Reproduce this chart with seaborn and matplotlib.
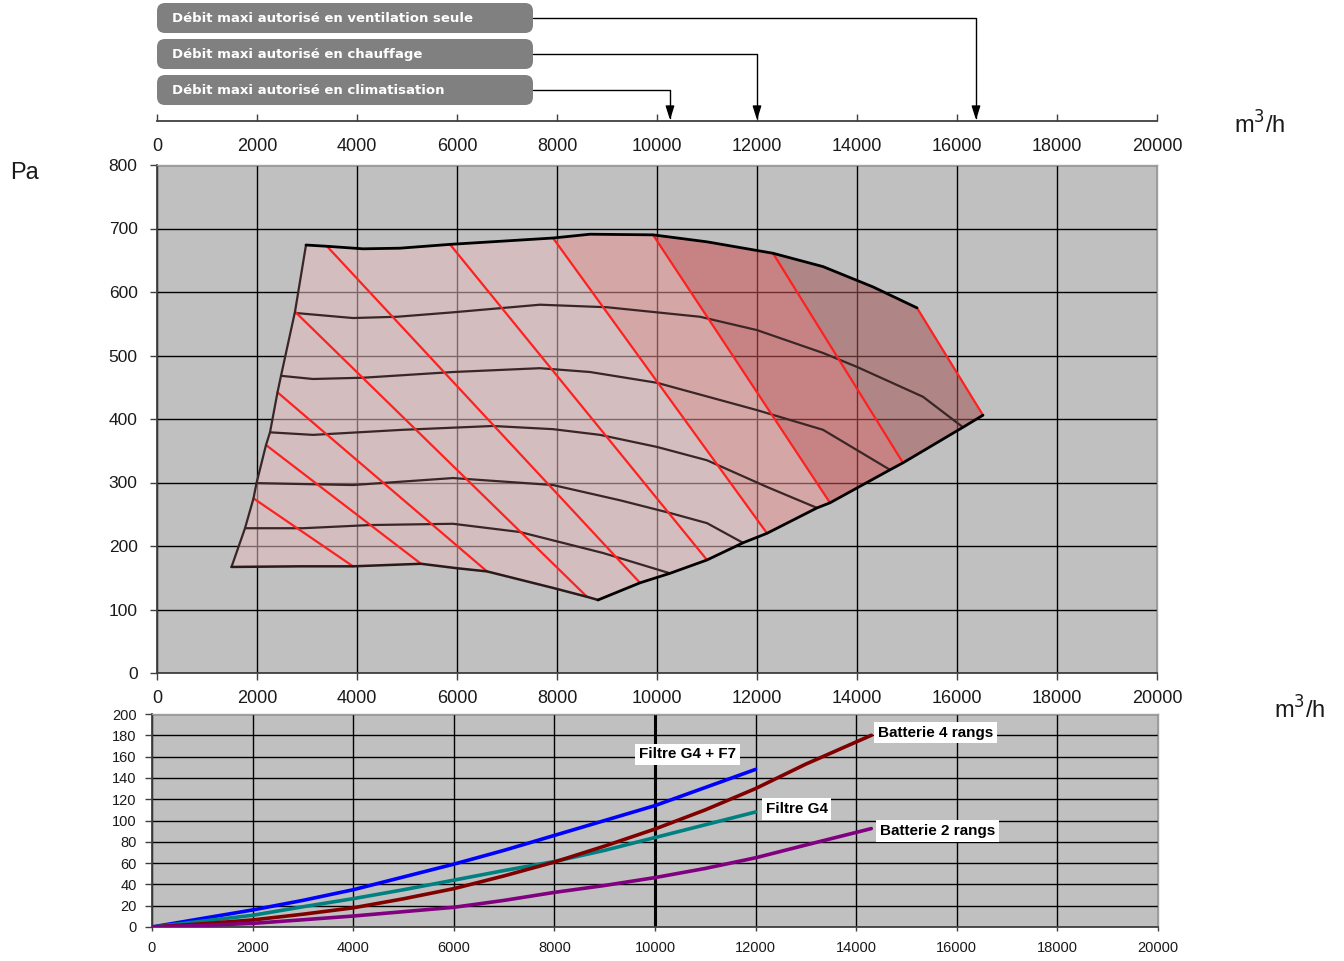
import matplotlib
matplotlib.use("Agg")
import matplotlib.pyplot as plt
import matplotlib.transforms as mtransforms
from matplotlib.patches import FancyBboxPatch
import numpy as np
import pandas as pd
import seaborn as sns

sns.set_theme(style="white")
plt.rcParams["font.family"] = ["Liberation Sans", "DejaVu Sans"]

# ---------------- top chart : fan operating area (m3/h vs Pa) ----------------
left_x = [1490, 1760, 1930, 1990, 2180, 2260, 2410, 2480, 2760, 2980]
left_y = [167, 228, 275, 299, 359, 379, 442, 468, 569, 674]
top_x = [2980, 3400, 4120, 4860, 5860, 7920, 8660, 9920, 11000, 12320, 13320, 14320, 15200]
top_y = [674, 672, 668, 669, 675, 685, 691, 690, 679, 661, 640, 608, 575]
rbot_x = [16520, 16120, 14920, 14660, 13460, 13200, 12200, 11720, 11000, 10260, 9660, 8820]
rbot_y = [406, 387, 331, 320, 268, 260, 220, 205, 178, 157, 142, 115]
lbot_x = [8820, 8600, 7920, 6600, 6000, 5280, 3920, 2860, 1490]
lbot_y = [115, 120, 134, 160, 165, 172, 168, 168, 167]

# red lines (start on left/top edge, end on bottom edge)
red_x0 = [1930, 2180, 2410, 2760, 3400, 5860, 7920, 9920, 12320, 15200]
red_y0 = [275, 359, 442, 569, 672, 675, 685, 690, 661, 575]
red_x1 = [3920, 5280, 6600, 8600, 9660, 11000, 12200, 13460, 14920, 16520]
red_y1 = [168, 172, 160, 120, 142, 178, 220, 268, 331, 406]

# intermediate speed curves
curve_a_x = [2760, 3920, 4800, 5920, 7660, 9000, 10860, 12000, 13320, 14000, 15320, 16120]
curve_a_y = [567, 559, 561, 568, 580, 576, 561, 540, 504, 482, 435, 387]
curve_b_x = [2480, 3120, 4120, 5920, 7660, 8660, 10000, 12000, 13320, 14660]
curve_b_y = [468, 463, 465, 474, 480, 474, 457, 414, 383, 320]
curve_c_x = [2260, 3120, 4920, 6720, 7920, 8860, 10000, 11000, 12200, 13200]
curve_c_y = [379, 375, 383, 389, 384, 375, 356, 335, 293, 260]
curve_d_x = [1990, 3920, 5920, 7920, 9260, 10260, 11000, 11720]
curve_d_y = [299, 296, 307, 296, 272, 252, 236, 205]
curve_e_x = [1760, 2920, 4260, 5920, 7260, 8920, 10260]
curve_e_y = [228, 228, 233, 235, 222, 189, 157]

band_colors = ["#E4BCBE", "#E69191", "#CE5151", "#A35555"]

limit_labels = ["Débit maxi autorisé en ventilation seule",
                "Débit maxi autorisé en chauffage",
                "Débit maxi autorisé en climatisation"]
limit_flows = [16380, 12000, 10260]

# ---------------- bottom chart : pressure drop of accessories ----------------
flow_short = [0, 1000, 2000, 3000, 4000, 5000, 6000, 7000, 8000, 9000, 10000, 11000, 12000]
flow_long = flow_short + [13000, 14300]
filtre_g4_f7 = [0, 8, 16, 25, 35, 47, 59, 72, 86, 100, 114, 131, 148]
filtre_g4 = [0, 5.5, 11, 19, 26.6, 35, 44, 53, 61.5, 72, 84, 96, 108]
batterie_4 = [0, 3, 6.6, 12, 18, 26.5, 36, 48, 61, 76, 92, 110, 130, 153, 180]
batterie_2 = [0, 1.5, 3.4, 6.8, 10.3, 14.4, 18.5, 25, 32.5, 39, 46.4, 55, 65, 77, 92.4]

series_names = ["Filtre G4 + F7", "Filtre G4", "Batterie 4 rangs", "Batterie 2 rangs"]
series_colors = ["#0000FF", "#008080", "#800000", "#800080"]
label_x = [9680, 12200, 14430, 14470]
label_y = [162, 110.6, 182.5, 90]

BG = "#C0C0C0"
TXT = "#1a1a1a"

fig = plt.figure(figsize=(13.44, 9.61), dpi=100)
W, H = 1344, 961

# ---- main (top) axes
ax = fig.add_axes([157 / W, 1 - 673 / H, 1000 / W, 508 / H])
ax.set_facecolor(BG)
ax.set_xlim(0, 20000)
ax.set_ylim(0, 800)
ax.set_xticks(np.arange(0, 20001, 2000))
ax.set_yticks(np.arange(0, 801, 100))
ax.set_axisbelow(True)
ax.grid(True, color="black", lw=1)

tx, ty = np.array(top_x), np.array(top_y)
bx, by = np.array(rbot_x), np.array(rbot_y)

# lightest zone: everything left of the 7th red line
mt = tx <= red_x0[6]
mb = bx <= red_x1[6]
light_x = np.r_[left_x, tx[mt][1:], bx[mb], lbot_x[1:]]
light_y = np.r_[left_y, ty[mt][1:], by[mb], lbot_y[1:]]
ax.fill(light_x, light_y, color=band_colors[0], alpha=0.55, lw=0, zorder=1)

for k, col in zip([6, 7, 8], band_colors[1:]):
    mt = (tx >= red_x0[k]) & (tx <= red_x0[k + 1])
    mb = (bx >= red_x1[k]) & (bx <= red_x1[k + 1])
    ax.fill(np.r_[tx[mt], bx[mb]], np.r_[ty[mt], by[mb]],
            color=col, alpha=0.55, lw=0, zorder=1)

for cx, cy in [(curve_a_x, curve_a_y), (curve_b_x, curve_b_y), (curve_c_x, curve_c_y),
               (curve_d_x, curve_d_y), (curve_e_x, curve_e_y)]:
    ax.plot(cx, cy, color="#3a2626", lw=1.6, zorder=3)

for x0, y0, x1, y1 in zip(red_x0, red_y0, red_x1, red_y1):
    ax.plot([x0, x1], [y0, y1], color="#FF2020", lw=1.6, zorder=4)

ax.plot(left_x, left_y, color="#3a2626", lw=1.6, zorder=5)
ax.plot(lbot_x, lbot_y, color="#2a1a1a", lw=1.8, zorder=5)
ax.plot(top_x, top_y, color="black", lw=2, zorder=5)
ax.plot(rbot_x, rbot_y, color="black", lw=2, zorder=5)

for side in ["left", "bottom"]:
    ax.spines[side].set_color("#404040")
    ax.spines[side].set_linewidth(1.3)
for side in ["top", "right"]:
    ax.spines[side].set_color("#a0a0a0")
    ax.spines[side].set_linewidth(1)
ax.tick_params(axis="x", direction="out", length=5, width=1, color="#404040",
               labelsize=13, labelcolor=TXT, pad=7, bottom=True)
ax.tick_params(axis="y", direction="out", length=5, width=1, color="#404040",
               labelsize=12.5, labelcolor=TXT, pad=9, left=True)

# ---- separate flow scale above the chart
ax_t = fig.add_axes([157 / W, 1 - 121 / H, 1000 / W, 0.001])
ax_t.set_xlim(0, 20000)
ax_t.set_xticks(np.arange(0, 20001, 2000))
ax_t.set_yticks([])
ax_t.patch.set_alpha(0)
for side in ["top", "left", "right"]:
    ax_t.spines[side].set_visible(False)
ax_t.spines["bottom"].set_color("#404040")
ax_t.spines["bottom"].set_linewidth(1.3)
ax_t.tick_params(axis="x", direction="in", length=5, width=1, color="#404040",
                 labelsize=13, labelcolor=TXT, pad=12, bottom=True)

# ---- bottom axes
ax2 = fig.add_axes([152 / W, 1 - 927 / H, 1006 / W, 213 / H])
ax2.set_facecolor(BG)
long_df = pd.concat([
    pd.DataFrame({"debit": flow_short, "dp": filtre_g4_f7, "serie": series_names[0]}),
    pd.DataFrame({"debit": flow_short, "dp": filtre_g4, "serie": series_names[1]}),
    pd.DataFrame({"debit": flow_long, "dp": batterie_4, "serie": series_names[2]}),
    pd.DataFrame({"debit": flow_long, "dp": batterie_2, "serie": series_names[3]}),
])
sns.lineplot(data=long_df, x="debit", y="dp", hue="serie", hue_order=series_names,
             palette=series_colors, lw=2.6, legend=False, ax=ax2, zorder=3)
ax2.set_xlim(0, 20000)
ax2.set_ylim(0, 200)
ax2.set_xticks(np.arange(0, 20001, 2000))
ax2.set_yticks(np.arange(0, 201, 20))
ax2.set_xlabel("")
ax2.set_ylabel("")
ax2.set_axisbelow(True)
ax2.grid(True, color="black", lw=1)
for tick, gl in zip(ax2.get_xticks(), ax2.get_xgridlines()):
    if tick == 10000:
        gl.set_linewidth(2.2)
for side in ["left", "bottom"]:
    ax2.spines[side].set_color("#404040")
    ax2.spines[side].set_linewidth(1.3)
for side in ["top", "right"]:
    ax2.spines[side].set_color("#a0a0a0")
    ax2.spines[side].set_linewidth(1)
ax2.tick_params(axis="x", direction="out", length=3, width=1, color="#404040",
                labelsize=10.5, labelcolor=TXT, pad=7, bottom=True)
ax2.tick_params(axis="y", direction="out", length=5, width=1, color="#404040",
                labelsize=10.5, labelcolor=TXT, pad=6, left=True)
for name, lx, ly in zip(series_names, label_x, label_y):
    ax2.text(lx, ly, name, ha="left", va="center", fontsize=11, fontweight="bold",
             color="black", zorder=6,
             bbox=dict(boxstyle="square,pad=0.25", fc="white", ec="none"))

# ---- overlay for the titles / limit annotations (pixel coordinates)
ov = fig.add_axes([0, 0, 1, 1], zorder=10)
ov.set_xlim(0, W)
ov.set_ylim(H, 0)
ov.axis("off")
ov.patch.set_alpha(0)

box_tops = [3, 39, 75]
box_h = 30
blend = mtransforms.blended_transform_factory(ax_t.transData, ov.transData)
for lab, flow, bt in zip(limit_labels, limit_flows, box_tops):
    ov.add_patch(FancyBboxPatch((160, bt + 3), 370, box_h - 6,
                                boxstyle="round,pad=3,rounding_size=8",
                                fc="#808080", ec="none"))
    yc = bt + box_h / 2
    ov.text(172, yc + 0.5, lab, ha="left", va="center", color="white",
            fontsize=9.5, fontweight="bold", family=["DejaVu Sans"])
    ov.annotate("", xy=(flow, 120), xycoords=blend, xytext=(533, yc),
                textcoords=ov.transData,
                arrowprops=dict(arrowstyle="-|>,head_length=0.7,head_width=0.22",
                                connectionstyle="angle,angleA=0,angleB=90,rad=0",
                                color="black", lw=1, shrinkA=0, shrinkB=0,
                                mutation_scale=12))

ov.text(25, 173, "Pa", ha="center", va="center", fontsize=17, color=TXT)
ov.text(1260, 125, "m$^3$/h", ha="center", va="center", fontsize=17, color=TXT)
ov.text(1300, 710, "m$^3$/h", ha="center", va="center", fontsize=17, color=TXT)

fig.savefig("out.png", dpi=100)
plt.close(fig)
